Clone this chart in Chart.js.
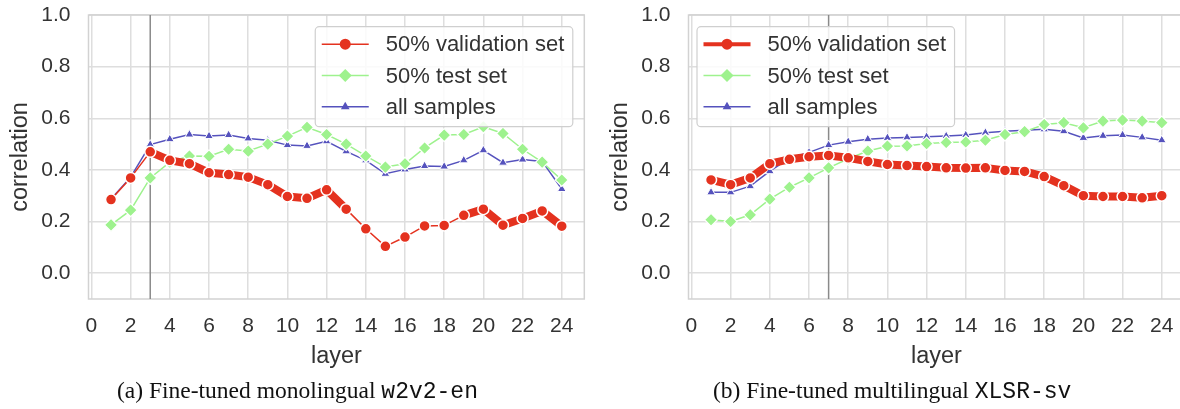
<!DOCTYPE html>
<html><head><meta charset="utf-8">
<script src="https://cdn.jsdelivr.net/npm/chart.js@4/dist/chart.umd.min.js"></script>
<style>
html,body{margin:0;padding:0;background:#fff;overflow:hidden;width:1180px;height:409px;}
.wrap{position:absolute;top:0;width:592px;height:409px;}
.cap{position:absolute;top:379px;font-family:"Liberation Serif","Times New Roman",serif;font-size:23.5px;line-height:1;color:#111;white-space:nowrap;}
.cap span{font-family:"Liberation Mono","Courier New",monospace;font-size:23px;}
</style></head>
<body>
<div class="wrap" style="left:0"><canvas id="c1" width="592" height="409"></canvas></div>
<div class="wrap" style="left:600px"><canvas id="c2" width="592" height="409"></canvas></div>
<div class="cap" style="left:117px">(a) Fine-tuned monolingual <span>w2v2-en</span></div>
<div class="cap" style="left:713px">(b) Fine-tuned multilingual <span>XLSR-sv</span></div>
<script>
// ---- data ----
const layers = [1,2,3,4,5,6,7,8,9,10,11,12,13,14,15,16,17,18,19,20,21,22,23,24];
const seriesNames = ['50% validation set', '50% test set', 'all samples'];
const xTicks = [0,2,4,6,8,10,12,14,16,18,20,22,24];
const yTicks = [0.0,0.2,0.4,0.6,0.8,1.0];

// (a) w2v2-en
const valA  = [0.285,0.369,0.470,0.437,0.424,0.389,0.382,0.372,0.343,0.297,0.290,0.323,0.248,0.172,0.104,0.140,0.183,0.185,0.224,0.248,0.186,0.212,0.241,0.182];
const testA = [0.187,0.244,0.369,0.430,0.454,0.453,0.480,0.473,0.500,0.531,0.565,0.537,0.500,0.454,0.411,0.424,0.485,0.535,0.537,0.567,0.541,0.480,0.430,0.361];
const allA  = [0.287,0.372,0.498,0.519,0.537,0.531,0.535,0.522,0.515,0.496,0.493,0.511,0.472,0.437,0.385,0.402,0.415,0.413,0.437,0.476,0.428,0.440,0.433,0.326];
// segment (layer i -> i+1) emphasised on the validation curve
const boldA = [0,0,1,1,1,1,1,1,1,1,1,1,0,0,0,0,0,0,1,1,1,1,1];
const bestA = 3;

// (b) XLSR-sv
const valB  = [0.361,0.343,0.369,0.424,0.441,0.451,0.456,0.447,0.433,0.421,0.417,0.413,0.408,0.407,0.408,0.398,0.394,0.374,0.339,0.300,0.297,0.297,0.292,0.300];
const testB = [0.207,0.200,0.226,0.287,0.333,0.369,0.408,0.443,0.473,0.492,0.493,0.502,0.506,0.508,0.515,0.537,0.548,0.576,0.583,0.563,0.589,0.593,0.589,0.583];
const allB  = [0.313,0.313,0.337,0.395,0.445,0.468,0.496,0.509,0.519,0.524,0.526,0.528,0.531,0.535,0.544,0.550,0.554,0.557,0.550,0.524,0.532,0.535,0.526,0.515];
const boldB = [1,1,1,1,1,1,1,1,1,1,1,1,1,1,1,1,1,1,1,1,1,1,1];
const bestB = 7;

// ---- style ----
const RED = '#e4321f', GREEN = '#9ef28e', BLUE = '#5552bd';
const GRID = '#dedede', EDGE = '#d2d2d2', TXT = '#333333';
const FONT = '"Liberation Sans", Arial, sans-serif';

const refLine = {
  id: 'refLine',
  beforeDatasetsDraw(chart, args, opts) {
    const {ctx, chartArea} = chart;
    const x = chart.scales.x.getPixelForValue(opts.layer);
    ctx.save();
    ctx.strokeStyle = '#8a8a8a'; ctx.lineWidth = 1.5;
    ctx.beginPath(); ctx.moveTo(x, chartArea.top); ctx.lineTo(x, chartArea.bottom); ctx.stroke();
    ctx.restore();
  }
};

const frame = {
  id: 'frame',
  beforeDatasetsDraw(chart) {
    const {ctx, chartArea: a} = chart;
    ctx.save();
    ctx.strokeStyle = EDGE; ctx.lineWidth = 1.5;
    ctx.strokeRect(a.left, a.top, a.right - a.left, a.bottom - a.top);
    ctx.restore();
  }
};

const boxLegend = {
  id: 'boxLegend',
  afterDatasetsDraw(chart, args, opts) {
    const {ctx, chartArea: a} = chart;
    ctx.save();
    ctx.font = '22px ' + FONT;
    const tw = Math.max(...chart.data.datasets.map(d => ctx.measureText(d.label).width));
    const w = 70 + tw + 9, h = 100;
    const left = opts.side === 'right' ? a.right - 11.5 - w : a.left + 8.5;
    const top = a.top + 11.7;
    ctx.fillStyle = 'rgba(255,255,255,0.85)';
    ctx.strokeStyle = '#cfcfcf'; ctx.lineWidth = 1.2;
    ctx.beginPath(); ctx.roundRect(left, top, w, h, 4); ctx.fill(); ctx.stroke();
    chart.data.datasets.forEach((d, i) => {
      const y = top + 17.5 + i * 31.3;
      ctx.strokeStyle = d.borderColor; ctx.lineWidth = d.legendLineWidth;
      ctx.lineCap = 'butt';
      ctx.beginPath(); ctx.moveTo(left + 6.5, y); ctx.lineTo(left + 53.5, y); ctx.stroke();
      ctx.fillStyle = d.pointBackgroundColor; ctx.strokeStyle = d.pointBackgroundColor;
      Chart.helpers.drawPoint(ctx, {pointStyle: d.pointStyle, radius: d.pointRadius, rotation: 0, borderWidth: 0}, left + 30, y);
      ctx.fillStyle = TXT; ctx.textBaseline = 'middle'; ctx.textAlign = 'left';
      ctx.fillText(d.label, left + 70.5, y + 1);
    });
    ctx.restore();
  }
};

function pts(arr) { return arr.map((v, i) => ({x: layers[i], y: v})); }

function makeChart(id, val, test, all, bold, best, side, valLegendLW) {
  return new Chart(document.getElementById(id), {
    type: 'line',
    data: {
      datasets: [
        {label: seriesNames[0], data: pts(val), borderColor: RED, backgroundColor: RED,
         pointBackgroundColor: RED, pointBorderColor: '#ffffff', pointBorderWidth: 1.5,
         pointRadius: 5.5, pointStyle: 'circle', borderWidth: 1.5, legendLineWidth: valLegendLW,
         borderJoinStyle: 'round', borderCapStyle: 'round',
         segment: {borderWidth: c => bold[c.p0DataIndex] ? 8 : 1.5}},
        {label: seriesNames[1], data: pts(test), borderColor: GREEN, backgroundColor: GREEN,
         pointBackgroundColor: GREEN, pointBorderColor: '#ffffff', pointBorderWidth: 1.2,
         pointRadius: 6.5, pointStyle: 'rectRot', borderWidth: 1.5, legendLineWidth: 1.5},
        {label: seriesNames[2], data: pts(all), borderColor: BLUE, backgroundColor: BLUE,
         pointBackgroundColor: BLUE, pointBorderColor: '#ffffff', pointBorderWidth: 1,
         pointRadius: 5, pointStyle: 'triangle', borderWidth: 1.5, legendLineWidth: 1.5}
      ]
    },
    options: {
      responsive: false, animation: false,
      layout: {padding: {left: 0, right: 7, top: 15, bottom: 0}},
      plugins: {legend: {display: false}, tooltip: {enabled: false},
                refLine: {layer: best}, boxLegend: {side: side}},
      scales: {
        x: {type: 'linear', min: -0.15, max: 25.15,
            afterBuildTicks: s => { s.ticks = xTicks.map(v => ({value: v})); },
            afterFit: s => { s.height = 110; s.paddingLeft = 0; s.paddingRight = 0; s.paddingTop = 0; s.paddingBottom = 0; },
            grid: {color: GRID, lineWidth: 1.5, drawTicks: false},
            border: {display: false},
            ticks: {padding: 15, color: TXT, font: {family: FONT, size: 21}, callback: v => String(v)},
            title: {display: true, text: 'layer', color: TXT, font: {family: FONT, size: 23.5},
                    padding: {top: 0, bottom: 38}}},
        y: {min: -0.1, max: 1.0,
            afterBuildTicks: s => { s.ticks = yTicks.map(v => ({value: v})); },
            afterFit: s => { s.width = 88.5; s.paddingTop = 0; s.paddingBottom = 0; s.paddingLeft = 0; s.paddingRight = 0; },
            grid: {color: GRID, lineWidth: 1.5, drawTicks: false},
            border: {display: false},
            ticks: {padding: 18, color: TXT, font: {family: FONT, size: 21}, callback: v => v.toFixed(1)},
            title: {display: true, text: 'correlation', color: TXT, font: {family: FONT, size: 23.5},
                    padding: {top: 6, bottom: 0}}}
      }
    },
    plugins: [frame, refLine, boxLegend]
  });
}

makeChart('c1', valA, testA, allA, boldA, bestA, 'right', 1.5);
makeChart('c2', valB, testB, allB, boldB, bestB, 'left', 4);
</script>
</body></html>
